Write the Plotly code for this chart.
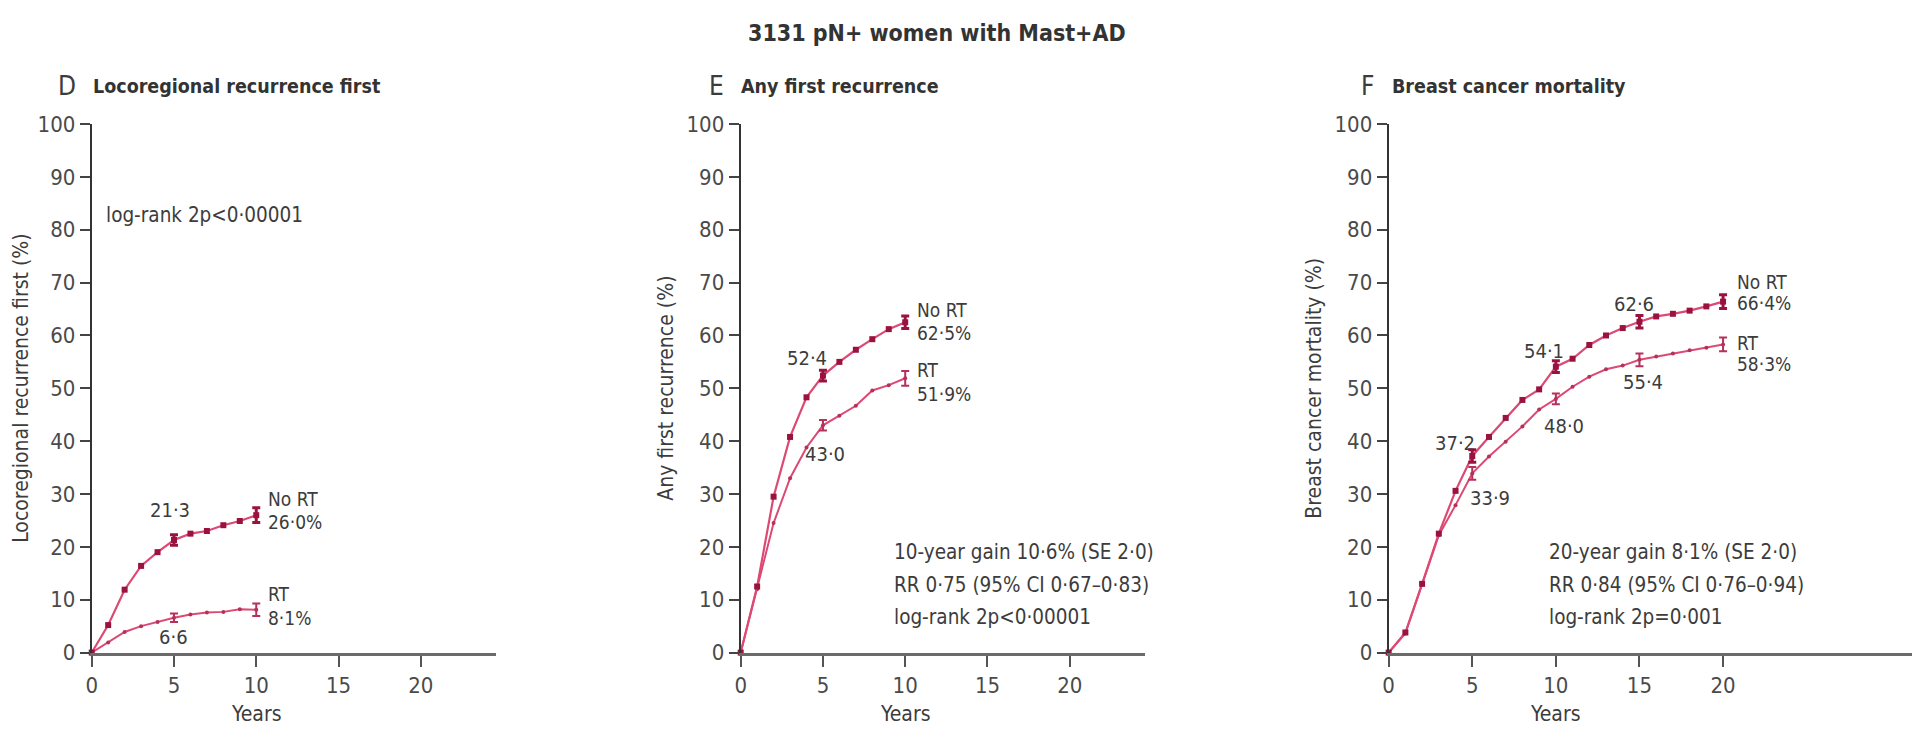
import plotly.graph_objects as go

W, H = 1915, 739

# ---------------- data ----------------
years_d = list(range(0, 11))
lrr_no_rt = [0, 5.2, 11.9, 16.4, 19.0, 21.3, 22.5, 23.0, 24.1, 24.9, 26.0]
lrr_rt = [0, 1.9, 3.9, 5.0, 5.8, 6.6, 7.2, 7.6, 7.7, 8.2, 8.1]

years_e = list(range(0, 11))
afr_no_rt = [0, 12.5, 29.5, 40.8, 48.3, 52.4, 55.0, 57.3, 59.3, 61.2, 62.5]
afr_rt = [0, 12.0, 24.5, 33.0, 38.8, 43.0, 44.8, 46.7, 49.6, 50.6, 51.9]

years_f = list(range(0, 21))
bcm_no_rt = [0, 3.8, 13.0, 22.5, 30.6, 37.2, 40.8, 44.4, 47.8, 49.8, 54.1,
             55.6, 58.2, 60.0, 61.4, 62.6, 63.6, 64.1, 64.7, 65.5, 66.4]
bcm_rt = [0, 3.6, 12.9, 22.2, 27.9, 33.9, 37.1, 39.9, 42.8, 46.0, 48.0,
          50.3, 52.2, 53.6, 54.3, 55.4, 56.0, 56.6, 57.2, 57.7, 58.3]

err_years_d = [5, 10]
err_no_rt_d = [1.0, 1.4]
err_rt_d = [0.8, 1.2]
err_years_e = [5, 10]
err_no_rt_e = [1.0, 1.2]
err_rt_e = [1.0, 1.4]
err_years_f = [5, 10, 15, 20]
err_no_rt_f = [1.2, 1.1, 1.2, 1.3]
err_rt_f = [1.2, 1.0, 1.2, 1.3]

y_ticks = [0, 10, 20, 30, 40, 50, 60, 70, 80, 90, 100]
x_ticks = [0, 5, 10, 15, 20]

LINE = "#dc4a74"
MK_NO = "#9a1240"
MK_RT = "#b5305c"
TXT = "#3c3c3c"
FONT = "Liberation Sans Narrow, Arial Narrow, DejaVu Sans Condensed, Liberation Sans, sans-serif"

fig = go.Figure()


def add_panel(xa, ya, years, no_rt, rt, ey, eno, ert):
    fig.add_trace(go.Scatter(x=years, y=rt, mode="lines+markers", xaxis=xa, yaxis=ya,
                             line=dict(color=LINE, width=2),
                             marker=dict(symbol="circle", size=4, color=MK_RT),
                             cliponaxis=False, showlegend=False))
    fig.add_trace(go.Scatter(x=years, y=no_rt, mode="lines+markers", xaxis=xa, yaxis=ya,
                             line=dict(color=LINE, width=2.2),
                             marker=dict(symbol="square", size=6, color=MK_NO),
                             cliponaxis=False, showlegend=False))
    fig.add_trace(go.Scatter(x=ey, y=[rt[years.index(v)] for v in ey], mode="markers",
                             xaxis=xa, yaxis=ya, marker=dict(size=1, opacity=0),
                             error_y=dict(type="data", array=ert, color=MK_RT, thickness=2, width=4),
                             showlegend=False))
    fig.add_trace(go.Scatter(x=ey, y=[no_rt[years.index(v)] for v in ey], mode="markers",
                             xaxis=xa, yaxis=ya, marker=dict(size=1, opacity=0),
                             error_y=dict(type="data", array=eno, color=MK_NO, thickness=3, width=4),
                             showlegend=False))


add_panel("x", "y", years_d, lrr_no_rt, lrr_rt, err_years_d, err_no_rt_d, err_rt_d)
add_panel("x2", "y2", years_e, afr_no_rt, afr_rt, err_years_e, err_no_rt_e, err_rt_e)
add_panel("x3", "y3", years_f, bcm_no_rt, bcm_rt, err_years_f, err_no_rt_f, err_rt_f)


def px_x(p):
    return p / W


def px_y(p):
    return (H - p) / H


def xaxis(dom, rng, anchor):
    return dict(domain=dom, range=rng, anchor=anchor, showline=True, linecolor="#6b6b6b",
                linewidth=3, ticks="outside", ticklen=11, tickwidth=2, tickcolor="#555",
                tickvals=x_ticks, showgrid=False, zeroline=False,
                tickfont=dict(family=FONT, size=22, color="#4a4a4a"), fixedrange=True)


def yaxis(dom, anchor):
    return dict(domain=dom, range=[0, 100], anchor=anchor, showline=True, linecolor="#333",
                linewidth=2, ticks="outside", ticklen=10, tickwidth=2, tickcolor="#444",
                tickvals=y_ticks, showgrid=False, zeroline=False,
                tickfont=dict(family=FONT, size=22, color="#4a4a4a"), fixedrange=True)


ydom = [px_y(663), px_y(116)]
fig.update_layout(
    width=W, height=H, autosize=False,
    margin=dict(l=0, r=0, t=0, b=0),
    paper_bgcolor="white", plot_bgcolor="white",
    font=dict(family=FONT, color=TXT),
    xaxis=xaxis([px_x(86), px_x(492)], [0, 24.6], "y"),
    yaxis=yaxis(ydom, "x"),
    xaxis2=xaxis([px_x(737), px_x(1143)], [0, 24.6], "y2"),
    yaxis2=yaxis(ydom, "x2"),
    xaxis3=xaxis([px_x(1387), px_x(1912)], [0, 31.3], "y3"),
    yaxis3=yaxis(ydom, "x3"),
)

ann = []


def paper_text(text, x, y, size, xanchor="center", bold=False, angle=0, color=TXT):
    t = f"<b>{text}</b>" if bold else text
    ann.append(dict(text=t, x=px_x(x), y=px_y(y), xref="paper", yref="paper",
                    xanchor=xanchor, yanchor="middle", showarrow=False, textangle=angle,
                    font=dict(family=FONT, size=size, color=color)))


def data_text(text, xa, ya, x, y, size=20, xanchor="center"):
    ann.append(dict(text=text, x=x, y=y, xref=xa, yref=ya, xanchor=xanchor, yanchor="middle",
                    showarrow=False, font=dict(family=FONT, size=size, color=TXT)))


# main title
paper_text("3131 pN+ women with Mast+AD", 934, 22, 23, bold=True, color="#333")
# panel titles
paper_text("D", 61, 77, 26)
paper_text("Locoregional recurrence first", 85, 77, 19.5, xanchor="left", bold=True, color="#333")
paper_text("E", 713, 77, 26)
paper_text("Any first recurrence", 735, 77, 19.5, xanchor="left", bold=True, color="#333")
paper_text("F", 1366, 77, 26)
paper_text("Breast cancer mortality", 1388, 77, 19.5, xanchor="left", bold=True, color="#333")
# y titles
paper_text("Locoregional recurrence first (%)", 15, 389, 21, angle=-90)
paper_text("Any first recurrence (%)", 662, 389, 21, angle=-90)
paper_text("Breast cancer mortality (%)", 1312, 389, 21, angle=-90)

# x titles
for xa in ["x", "x2", "x3"]:
    ann.append(dict(text="Years", x=10, y=px_y(727), xref=xa, yref="paper", xanchor="center",
                    yanchor="middle", showarrow=False, font=dict(family=FONT, size=21, color=TXT)))

# Panel D texts
data_text("log-rank 2p<0\u00b700001", "x", "y", 0.75, 82.8, 20.5, "left")
data_text("21\u00b73", "x", "y", 4.78, 27.0)
data_text("6\u00b76", "x", "y", 4.98, 2.9)
data_text("No RT", "x", "y", 10.6, 29.1, 19, "left")
data_text("26\u00b70%", "x", "y", 10.6, 24.8, 19, "left")
data_text("RT", "x", "y", 10.6, 11.1, 19, "left")
data_text("8\u00b71%", "x", "y", 10.6, 6.6, 19, "left")

# Panel E texts
data_text("52\u00b74", "x2", "y2", 4.0, 55.7)
data_text("43\u00b70", "x2", "y2", 5.15, 37.6)
data_text("No RT", "x2", "y2", 10.6, 64.8, 19, "left")
data_text("62\u00b75%", "x2", "y2", 10.6, 60.4, 19, "left")
data_text("RT", "x2", "y2", 10.6, 53.5, 19, "left")
data_text("51\u00b79%", "x2", "y2", 10.6, 48.9, 19, "left")
data_text("10-year gain 10\u00b76% (SE 2\u00b70)", "x2", "y2", 9.2, 19.0, 20.5, "left")
data_text("RR 0\u00b775 (95% CI 0\u00b767\u20130\u00b783)", "x2", "y2", 9.2, 12.8, 20.5, "left")
data_text("log-rank 2p<0\u00b700001", "x2", "y2", 9.2, 6.8, 20.5, "left")

# Panel F texts
data_text("37\u00b72", "x3", "y3", 3.96, 39.6)
data_text("33\u00b79", "x3", "y3", 6.06, 29.3)
data_text("54\u00b71", "x3", "y3", 9.3, 57.1)
data_text("48\u00b70", "x3", "y3", 10.46, 42.8)
data_text("62\u00b76", "x3", "y3", 14.7, 66.0)
data_text("55\u00b74", "x3", "y3", 15.2, 51.2)
data_text("No RT", "x3", "y3", 20.7, 70.1, 19, "left")
data_text("66\u00b74%", "x3", "y3", 20.7, 66.1, 19, "left")
data_text("RT", "x3", "y3", 20.7, 58.6, 19, "left")
data_text("58\u00b73%", "x3", "y3", 20.7, 54.6, 19, "left")
data_text("20-year gain 8\u00b71% (SE 2\u00b70)", "x3", "y3", 9.45, 19.0, 20.5, "left")
data_text("RR 0\u00b784 (95% CI 0\u00b776\u20130\u00b794)", "x3", "y3", 9.45, 12.8, 20.5, "left")
data_text("log-rank 2p=0\u00b7001", "x3", "y3", 9.45, 6.8, 20.5, "left")

fig.update_layout(annotations=ann)
fig.write_html("out.html", config={"displayModeBar": False},
               post_script="document.documentElement.style.margin='0px';document.body.style.margin='0px';document.body.style.overflow='hidden';")
